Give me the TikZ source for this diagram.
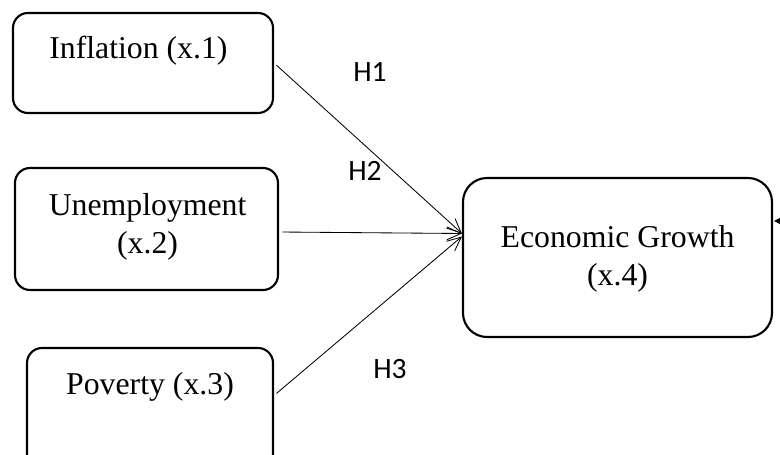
\documentclass[tikz,border=0pt]{standalone}
\usepackage{fontspec}
\setmainfont{Liberation Serif}
\newfontfamily\hfont{Carlito}
\usetikzlibrary{arrows.meta}

\begin{document}
\begin{tikzpicture}[
        box/.style={draw, line width=1.5pt, rounded corners=0.375cm},
        txt/.style={font=\fontsize{22.6}{27.5}\selectfont, align=center, inner sep=0pt},
        hyp/.style={font=\hfont\fontsize{21}{24}\selectfont, inner sep=0pt},
        arc/.style={line width=0.6pt, shorten <=0.8mm, -{Straight Barb[length=3.5mm,width=3.2mm]}}
    ]
        \useasboundingbox (0,0) rectangle (19.5,11.375);

        %%%%%%%%%% Nodes %%%%%%%%%%
        \node[box, minimum width=6.5cm, minimum height=2.5cm] (I) at (3.575,9.8) {};
        \node[txt] (It) at (3.46,10.1) {Inflation (x.1)};

        \node[box, minimum width=6.575cm, minimum height=3.05cm] (U) at (3.6625,5.65) {};
        \node[txt] (Ut) at (3.69,5.7) {Unemployment\\(x.2)};

        \node[box, minimum width=6.15cm, minimum height=3.175cm] (P) at (3.75,1.0875) {};
        \node[txt] (Pt) at (3.75,1.7) {Poverty (x.3)};

        \node[box, rounded corners=0.6cm, minimum width=7.725cm, minimum height=3.975cm] (E) at (15.4375,4.9375) {};
        \node[txt] (Et) at (15.44,4.9) {Economic Growth\\(x.4)};

        \node[hyp] (H1) at (9.25,9.575) {H1};
        \node[hyp] (H2) at (9.125,7.1) {H2};
        \node[hyp] (H3) at (9.75,2.15) {H3};

        \coordinate (T) at ([yshift=0.6cm]E.west);
        \coordinate (R) at (20.3,5.85);

        %%%%%%%%%% Arcs %%%%%%%%%%
        \draw[arc] (I.east) -- (T);
        \draw[arc] ([yshift=-0.075cm]U.east) -- (T);
        \draw[arc] ([yshift=0.4cm]P.east) -- ([yshift=-0.075cm]T);
        \draw[line width=0.6pt, -{Triangle[length=2mm,width=2mm]}] (R) -- ([xshift=0.7pt]E.east |- R);
    \end{tikzpicture}
\end{document}
